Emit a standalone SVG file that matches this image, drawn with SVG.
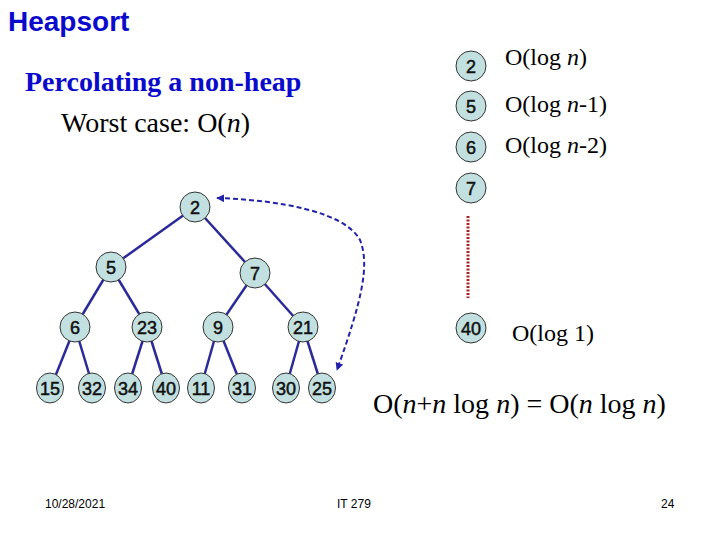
<svg xmlns="http://www.w3.org/2000/svg" width="720" height="540" viewBox="0 0 720 540">
<style>
.n circle,.n ellipse{fill:#c3e0e0;stroke:#333;stroke-width:1}
.n text{font-family:"Liberation Sans",Arial,sans-serif;font-size:18px;fill:#111;stroke:#111;stroke-width:0.5;text-anchor:middle}
.e line{stroke:#2a2a99;stroke-width:2.5}
.t{font-family:"Liberation Serif","Times New Roman",serif;fill:#000}
.f{font-family:"Liberation Sans",Arial,sans-serif;font-size:12px;fill:#000}
</style>
<defs>
<marker id="ah" viewBox="0 0 10 10" refX="9" refY="5" markerWidth="4" markerHeight="4" orient="auto-start-reverse">
<path d="M0,0 L10,5 L0,10 z" fill="#2222aa"/>
</marker>
</defs>
<rect width="720" height="540" fill="#fff"/>
<text x="8" y="31" font-family="Liberation Sans,Arial,sans-serif" font-weight="bold" font-size="28" fill="#0a0acc">Heapsort</text>
<text x="25" y="91" font-family="Liberation Serif,Times New Roman,serif" font-weight="bold" font-size="28" fill="#0a0acc">Percolating a non-heap</text>
<text x="61" y="132" class="t" font-size="28">Worst case: O(<tspan font-style="italic">n</tspan>)</text>

<g id="edges" class="e">
<line x1="195" y1="207" x2="111" y2="267"/>
<line x1="195" y1="207" x2="255" y2="273"/>
<line x1="111" y1="267" x2="75" y2="327"/>
<line x1="111" y1="267" x2="147" y2="327"/>
<line x1="255" y1="273" x2="218" y2="327"/>
<line x1="255" y1="273" x2="303" y2="327"/>
<line x1="75" y1="327" x2="51" y2="387"/>
<line x1="75" y1="327" x2="93" y2="387"/>
<line x1="147" y1="327" x2="128" y2="387"/>
<line x1="147" y1="327" x2="166" y2="387"/>
<line x1="218" y1="327" x2="201" y2="387"/>
<line x1="218" y1="327" x2="242" y2="387"/>
<line x1="303" y1="327" x2="286" y2="387"/>
<line x1="303" y1="327" x2="322" y2="387"/>
<path d="M217,198 C280,200 345,212 360,240 C370,265 362,300 337,370" fill="none" stroke="#2222aa" stroke-width="2" stroke-dasharray="5,3" marker-start="url(#ah)" marker-end="url(#ah)"/>
<path d="M468,216 V298" fill="none" stroke="#aa2222" stroke-width="3" stroke-dasharray="2,1.5"/>
</g>

<g id="n2" class="n"><circle cx="195" cy="207" r="15"/><text x="195" y="213.5">2</text></g>
<g id="n5" class="n"><circle cx="111" cy="267" r="15"/><text x="111" y="273.5">5</text></g>
<g id="n7" class="n"><circle cx="255" cy="273" r="15"/><text x="255" y="279.5">7</text></g>
<g id="n6" class="n"><circle cx="75" cy="327" r="15"/><text x="75" y="333.5">6</text></g>
<g id="n23" class="n"><circle cx="147" cy="327" r="15"/><text x="147" y="333.5">23</text></g>
<g id="n9" class="n"><circle cx="218" cy="327" r="15"/><text x="218" y="333.5">9</text></g>
<g id="n21" class="n"><circle cx="303" cy="327" r="15"/><text x="303" y="333.5">21</text></g>
<g id="n15" class="n"><ellipse cx="50" cy="388" rx="13.5" ry="15"/><text x="50" y="394.5">15</text></g>
<g id="n32" class="n"><ellipse cx="92" cy="388" rx="13.5" ry="15"/><text x="92" y="394.5">32</text></g>
<g id="n34" class="n"><ellipse cx="128" cy="388" rx="13.5" ry="15"/><text x="128" y="394.5">34</text></g>
<g id="n40" class="n"><ellipse cx="166" cy="388" rx="13.5" ry="15"/><text x="166" y="394.5">40</text></g>
<g id="n11" class="n"><ellipse cx="201" cy="388" rx="13.5" ry="15"/><text x="201" y="394.5">11</text></g>
<g id="n31" class="n"><ellipse cx="242" cy="388" rx="13.5" ry="15"/><text x="242" y="394.5">31</text></g>
<g id="n30" class="n"><ellipse cx="286" cy="388" rx="13.5" ry="15"/><text x="286" y="394.5">30</text></g>
<g id="n25" class="n"><ellipse cx="322" cy="388" rx="13.5" ry="15"/><text x="322" y="394.5">25</text></g>

<g id="r2" class="n"><circle cx="471" cy="66" r="15"/><text x="471" y="72.5">2</text></g>
<g id="r5" class="n"><circle cx="471" cy="106" r="15"/><text x="471" y="112.5">5</text></g>
<g id="r6" class="n"><circle cx="471" cy="147" r="15"/><text x="471" y="153.5">6</text></g>
<g id="r7" class="n"><circle cx="471" cy="188" r="15"/><text x="471" y="194.5">7</text></g>
<g id="r40" class="n"><circle cx="471" cy="328" r="15"/><text x="471" y="334.5">40</text></g>

<text x="505" y="65" class="t" font-size="24">O(log <tspan font-style="italic">n</tspan>)</text>
<text x="505" y="112" class="t" font-size="24">O(log <tspan font-style="italic">n</tspan>-1)</text>
<text x="505" y="153" class="t" font-size="24">O(log <tspan font-style="italic">n</tspan>-2)</text>
<text x="512" y="341" class="t" font-size="24">O(log 1)</text>
<text x="373" y="413" class="t" font-size="28">O(<tspan font-style="italic">n</tspan>+<tspan font-style="italic">n</tspan> log <tspan font-style="italic">n</tspan>) = O(<tspan font-style="italic">n</tspan> log <tspan font-style="italic">n</tspan>)</text>

<text x="45" y="508" class="f">10/28/2021</text>
<text x="337" y="508" class="f" font-size="13">IT 279</text>
<text x="661" y="508" class="f">24</text>
</svg>
